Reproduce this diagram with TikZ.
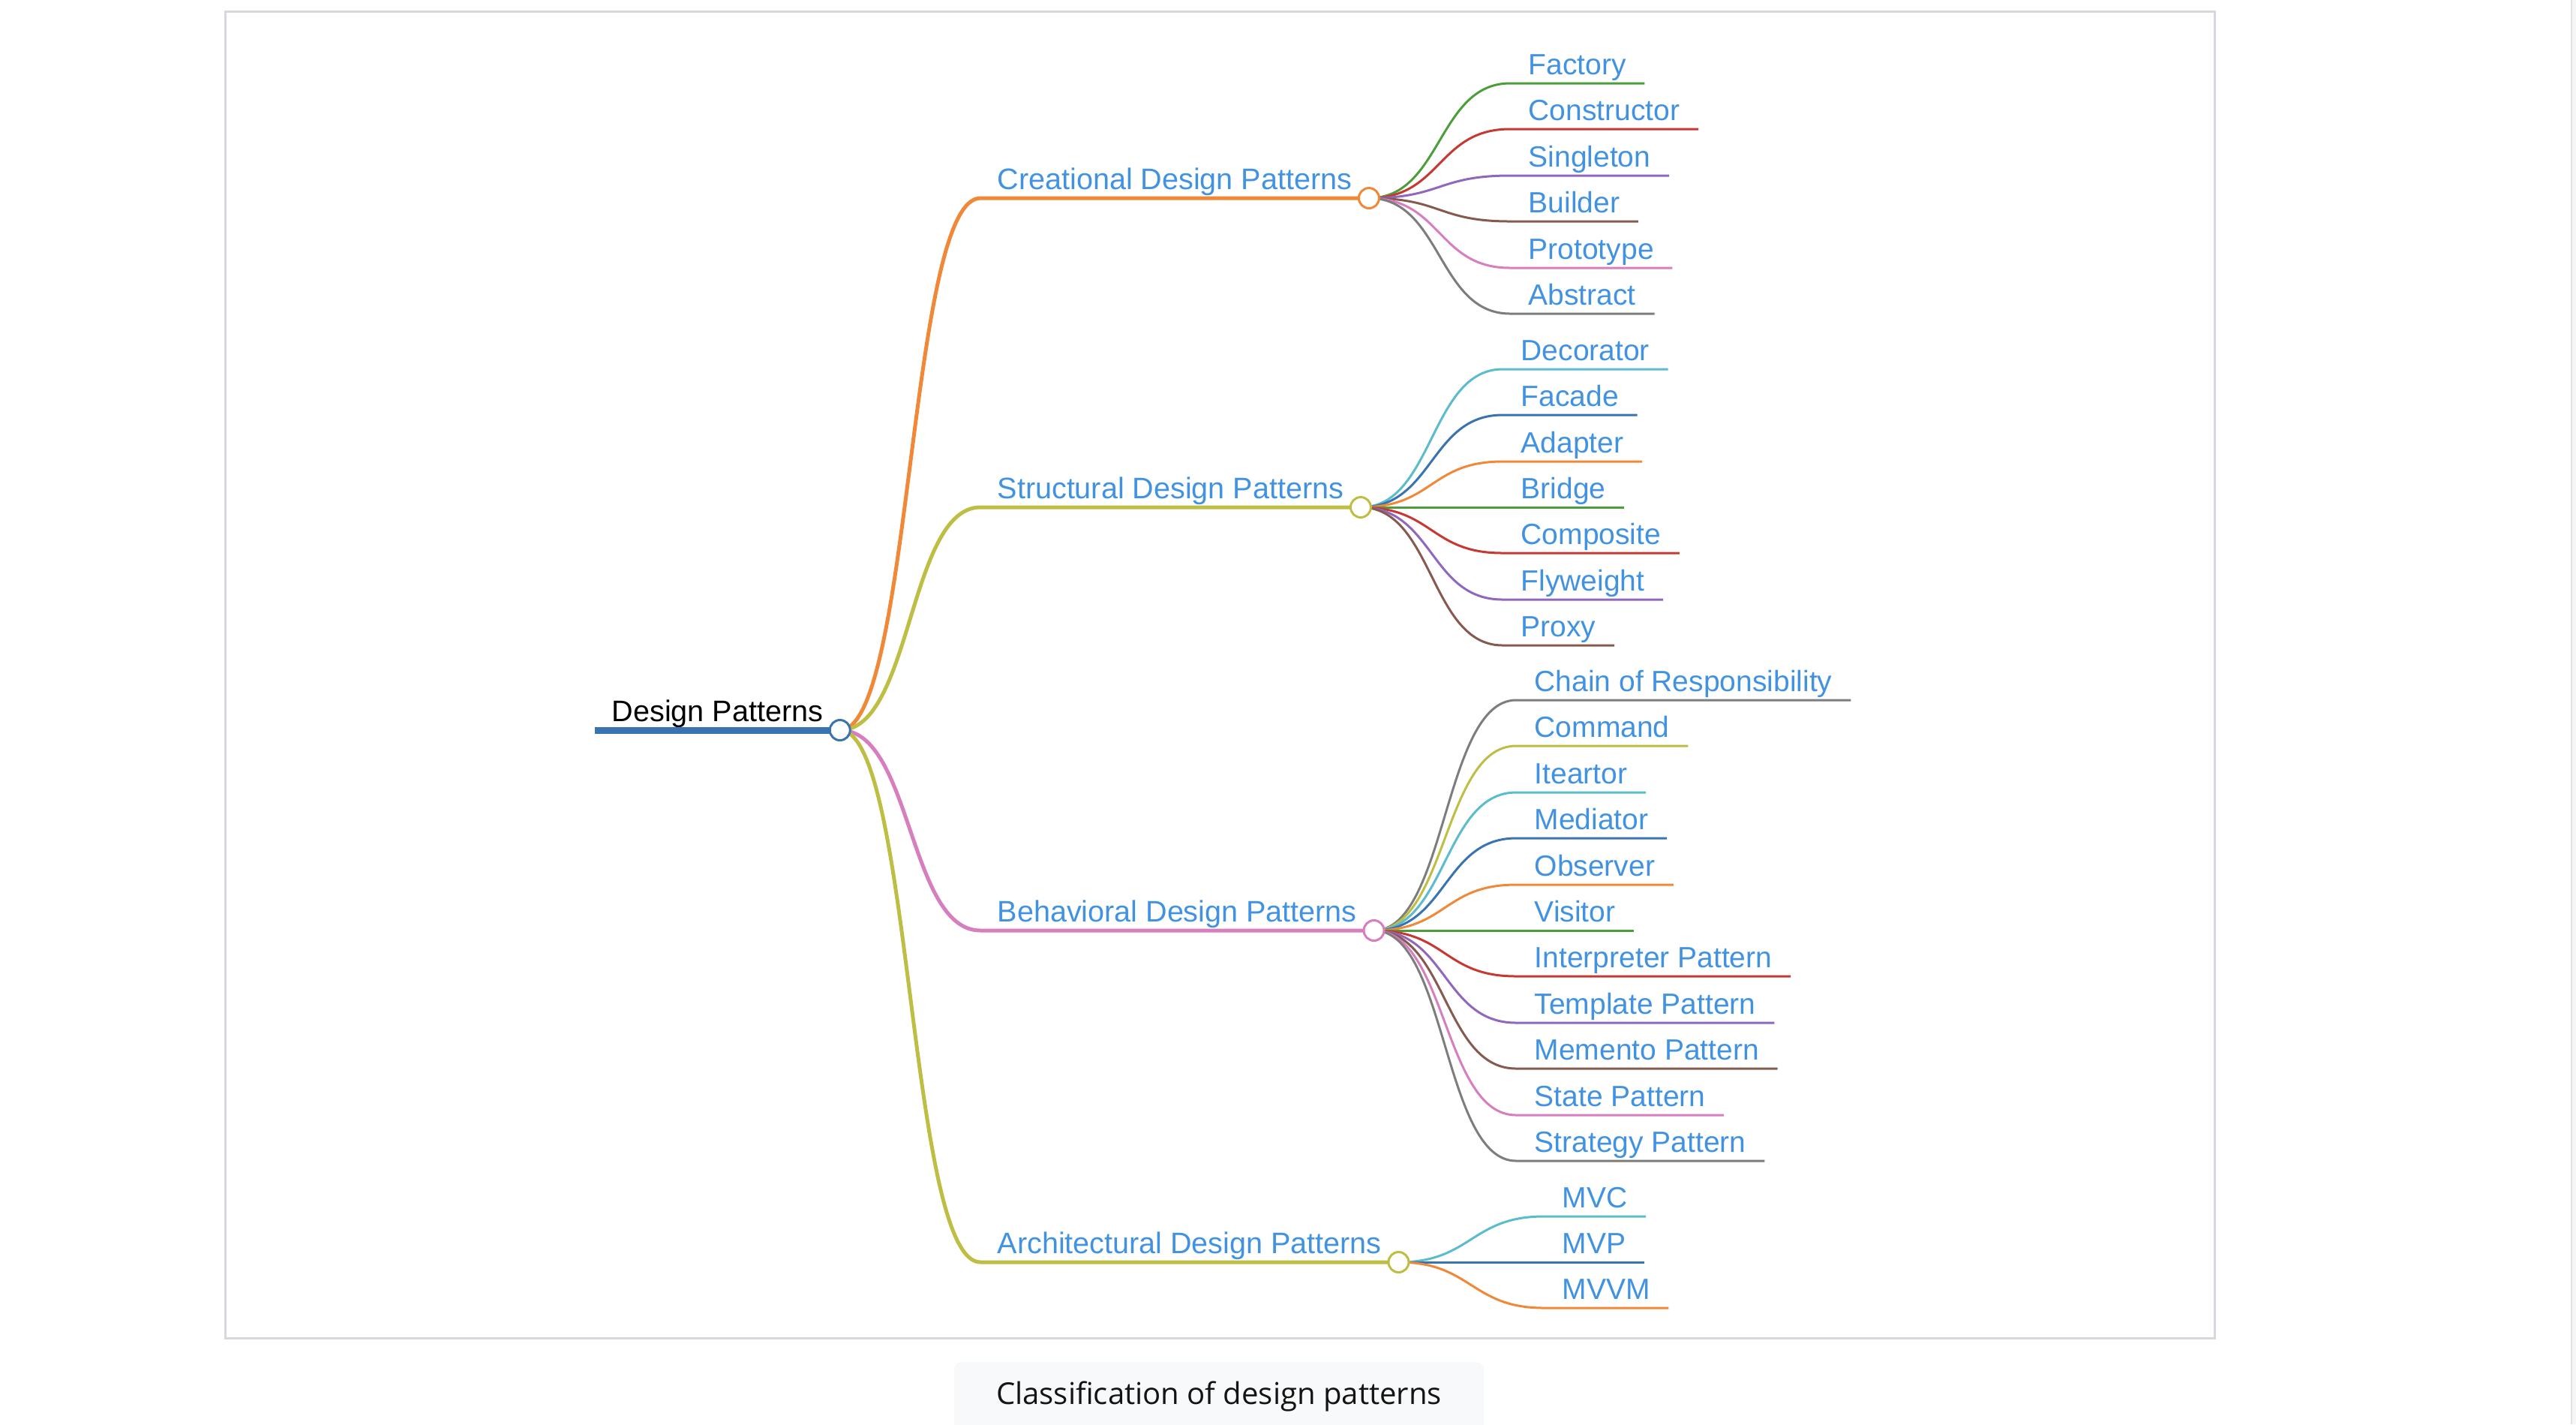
\documentclass[tikz,border=0pt]{standalone}
\usepackage{fontspec}
\setmainfont{Liberation Sans}
\newfontfamily\capfont{Open Sans}
\usepackage{tikz}
\usepackage{xcolor}
\usetikzlibrary{shapes, arrows, positioning}

\definecolor{topicblue}{RGB}{66,146,226}
\definecolor{cblue}{RGB}{58,116,176}
\definecolor{corange}{RGB}{240,136,56}
\definecolor{colive}{RGB}{190,190,68}
\definecolor{cpink}{RGB}{214,126,190}
\definecolor{cgreen}{RGB}{76,158,58}
\definecolor{cred}{RGB}{200,56,50}
\definecolor{cpurple}{RGB}{143,104,190}
\definecolor{cbrown}{RGB}{135,90,80}
\definecolor{cgray}{RGB}{125,125,125}
\definecolor{ccyan}{RGB}{90,188,204}
\definecolor{framegray}{RGB}{213,216,220}
\definecolor{edgegray}{RGB}{226,226,226}
\definecolor{edgelight}{RGB}{246,246,246}
\definecolor{capfill}{RGB}{248,249,250}
\definecolor{capblack}{RGB}{20,20,20}

\begin{document}
\begin{tikzpicture}[x=1cm, y=-1cm,
    topic/.style={anchor=south west, inner xsep=0.24cm, inner ysep=0.11cm, text depth=0pt, font=\fontsize{11.1}{13}\selectfont, text=topicblue},
    branch/.style={topic, inner xsep=0.22cm, font=\fontsize{11.25}{13}\selectfont},
    rootnode/.style={branch, text=black},
    dot/.style={circle, draw, fill=white, line width=0.85pt, minimum size=0.27cm, inner sep=0pt},
    rootline/.style={line width=0.09cm},
    branchline/.style={line width=0.05cm},
    leafline/.style={line width=0.03cm}]
        \useasboundingbox (0,0) rectangle (34.34,18.98);
        \draw[framegray, line width=0.03cm] (3.00,0.15) rectangle (29.52,17.83);
        \fill[edgelight] (34.27,0) rectangle (34.34,18.98);
        \fill[edgegray] (34.27,0) rectangle (34.29,18.98);
        \fill[capfill, rounded corners=0.1cm] (12.72,18.15) rectangle (19.78,19.10);
        \node[anchor=base, font=\capfont\fontsize{11.4}{13}\selectfont, text=capblack] (caption) at (16.25,18.71) {Classification of design patterns};

        \node[rootnode] (design) at (7.93, 9.73) {Design Patterns};
        \node[branch] (creational) at (13.07, 2.64) {Creational Design Patterns};
        \node[branch] (structural) at (13.07, 6.76) {Structural Design Patterns};
        \node[branch] (behavioral) at (13.07, 12.40) {Behavioral Design Patterns};
        \node[branch] (architectural) at (13.07, 16.82) {Architectural Design Patterns};

        \node[topic] (factory) at (20.13, 1.11) {Factory};
        \node[topic] (constructor) at (20.13, 1.72) {Constructor};
        \node[topic] (singleton) at (20.13, 2.34) {Singleton};
        \node[topic] (builder) at (20.13, 2.95) {Builder};
        \node[topic] (prototype) at (20.13, 3.57) {Prototype};
        \node[topic] (abstract) at (20.13, 4.18) {Abstract};

        \node[topic] (decorator) at (20.03, 4.92) {Decorator};
        \node[topic] (facade) at (20.03, 5.53) {Facade};
        \node[topic] (adapter) at (20.03, 6.15) {Adapter};
        \node[topic] (bridge) at (20.03, 6.76) {Bridge};
        \node[topic] (composite) at (20.03, 7.37) {Composite};
        \node[topic] (flyweight) at (20.03, 7.99) {Flyweight};
        \node[topic] (proxy) at (20.03, 8.60) {Proxy};

        \node[topic] (chain) at (20.21, 9.33) {Chain of Responsibility};
        \node[topic] (command) at (20.21, 9.94) {Command};
        \node[topic] (iteartor) at (20.21, 10.56) {Iteartor};
        \node[topic] (mediator) at (20.21, 11.17) {Mediator};
        \node[topic] (observer) at (20.21, 11.79) {Observer};
        \node[topic] (visitor) at (20.21, 12.40) {Visitor};
        \node[topic] (interpreter) at (20.21, 13.01) {Interpreter Pattern};
        \node[topic] (template) at (20.21, 13.63) {Template Pattern};
        \node[topic] (memento) at (20.21, 14.24) {Memento Pattern};
        \node[topic] (state) at (20.21, 14.86) {State Pattern};
        \node[topic] (strategy) at (20.21, 15.47) {Strategy Pattern};

        \node[topic] (mvc) at (20.58, 16.21) {MVC};
        \node[topic] (mvp) at (20.58, 16.82) {MVP};
        \node[topic] (mvvm) at (20.58, 17.43) {MVVM};

        \draw[rootline, cblue] (design.south west) -- (design.south east);
        \draw[branchline, corange] (design.south east) .. controls +(0.96,0) and +(-0.96,0) .. (creational.south west) -- (creational.south east);
        \draw[branchline, colive] (design.south east) .. controls +(0.96,0) and +(-0.96,0) .. (structural.south west) -- (structural.south east);
        \draw[branchline, cpink] (design.south east) .. controls +(0.96,0) and +(-0.96,0) .. (behavioral.south west) -- (behavioral.south east);
        \draw[branchline, colive] (design.south east) .. controls +(0.96,0) and +(-0.96,0) .. (architectural.south west) -- (architectural.south east);

        \draw[leafline, cgreen] (creational.south east) .. controls +(0.97,0) and +(-0.97,0) .. (factory.south west) -- (factory.south east);
        \draw[leafline, cred] (creational.south east) .. controls +(0.97,0) and +(-0.97,0) .. (constructor.south west) -- (constructor.south east);
        \draw[leafline, cpurple] (creational.south east) .. controls +(0.97,0) and +(-0.97,0) .. (singleton.south west) -- (singleton.south east);
        \draw[leafline, cbrown] (creational.south east) .. controls +(0.97,0) and +(-0.97,0) .. (builder.south west) -- (builder.south east);
        \draw[leafline, cpink] (creational.south east) .. controls +(0.97,0) and +(-0.97,0) .. (prototype.south west) -- (prototype.south east);
        \draw[leafline, cgray] (creational.south east) .. controls +(0.97,0) and +(-0.97,0) .. (abstract.south west) -- (abstract.south east);

        \draw[leafline, ccyan] (structural.south east) .. controls +(0.97,0) and +(-0.97,0) .. (decorator.south west) -- (decorator.south east);
        \draw[leafline, cblue] (structural.south east) .. controls +(0.97,0) and +(-0.97,0) .. (facade.south west) -- (facade.south east);
        \draw[leafline, corange] (structural.south east) .. controls +(0.97,0) and +(-0.97,0) .. (adapter.south west) -- (adapter.south east);
        \draw[leafline, cgreen] (structural.south east) .. controls +(0.97,0) and +(-0.97,0) .. (bridge.south west) -- (bridge.south east);
        \draw[leafline, cred] (structural.south east) .. controls +(0.97,0) and +(-0.97,0) .. (composite.south west) -- (composite.south east);
        \draw[leafline, cpurple] (structural.south east) .. controls +(0.97,0) and +(-0.97,0) .. (flyweight.south west) -- (flyweight.south east);
        \draw[leafline, cbrown] (structural.south east) .. controls +(0.97,0) and +(-0.97,0) .. (proxy.south west) -- (proxy.south east);

        \draw[leafline, cgray] (behavioral.south east) .. controls +(0.97,0) and +(-0.97,0) .. (chain.south west) -- (chain.south east);
        \draw[leafline, colive] (behavioral.south east) .. controls +(0.97,0) and +(-0.97,0) .. (command.south west) -- (command.south east);
        \draw[leafline, ccyan] (behavioral.south east) .. controls +(0.97,0) and +(-0.97,0) .. (iteartor.south west) -- (iteartor.south east);
        \draw[leafline, cblue] (behavioral.south east) .. controls +(0.97,0) and +(-0.97,0) .. (mediator.south west) -- (mediator.south east);
        \draw[leafline, corange] (behavioral.south east) .. controls +(0.97,0) and +(-0.97,0) .. (observer.south west) -- (observer.south east);
        \draw[leafline, cgreen] (behavioral.south east) .. controls +(0.97,0) and +(-0.97,0) .. (visitor.south west) -- (visitor.south east);
        \draw[leafline, cred] (behavioral.south east) .. controls +(0.97,0) and +(-0.97,0) .. (interpreter.south west) -- (interpreter.south east);
        \draw[leafline, cpurple] (behavioral.south east) .. controls +(0.97,0) and +(-0.97,0) .. (template.south west) -- (template.south east);
        \draw[leafline, cbrown] (behavioral.south east) .. controls +(0.97,0) and +(-0.97,0) .. (memento.south west) -- (memento.south east);
        \draw[leafline, cpink] (behavioral.south east) .. controls +(0.97,0) and +(-0.97,0) .. (state.south west) -- (state.south east);
        \draw[leafline, cgray] (behavioral.south east) .. controls +(0.97,0) and +(-0.97,0) .. (strategy.south west) -- (strategy.south east);

        \draw[leafline, ccyan] (architectural.south east) .. controls +(0.97,0) and +(-0.97,0) .. (mvc.south west) -- (mvc.south east);
        \draw[leafline, cblue] (architectural.south east) .. controls +(0.97,0) and +(-0.97,0) .. (mvp.south west) -- (mvp.south east);
        \draw[leafline, corange] (architectural.south east) .. controls +(0.97,0) and +(-0.97,0) .. (mvvm.south west) -- (mvvm.south east);

        \node[dot, draw=cblue] (designdot) at (design.south east) {};
        \node[dot, draw=corange] (creationaldot) at (creational.south east) {};
        \node[dot, draw=colive] (structuraldot) at (structural.south east) {};
        \node[dot, draw=cpink] (behavioraldot) at (behavioral.south east) {};
        \node[dot, draw=colive] (architecturaldot) at (architectural.south east) {};
    \end{tikzpicture}
\end{document}
